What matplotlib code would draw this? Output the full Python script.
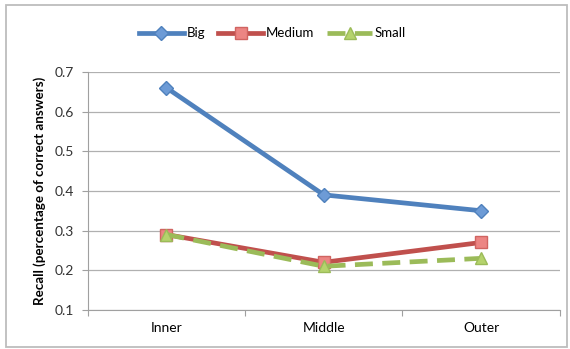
import matplotlib.pyplot as plt
from matplotlib.patches import Rectangle

plt.rcParams['font.family'] = ['Lato', 'DejaVu Sans']

regions = ["Inner", "Middle", "Outer"]
big = [0.66, 0.39, 0.35]
medium = [0.29, 0.22, 0.27]
small = [0.29, 0.21, 0.23]

fig = plt.figure(figsize=(5.70, 3.49), dpi=100)
ax = fig.add_axes([0.154, 0.112, 0.828, 0.682])

x = range(len(regions))
ax.plot(x, big, color="#4f81bd", lw=3.4, marker="D", ms=7,
        mfc="#6d9bd6", mec="#4f81bd", label="Big", zorder=3)
ax.plot(x, medium, color="#c0504d", lw=3.4, marker="s", ms=8,
        mfc="#ec8583", mec="#d06461", label="Medium", zorder=3)
ax.plot(x, small, color="#9bbb59", lw=3.4, ls=(0, (3.8, 2)), marker="^", ms=9,
        mfc="#b5d36c", mec="#9bbb59", label="Small", zorder=4)

ax.set_xlim(-0.5, 2.5)
ax.set_ylim(0.1, 0.7)
ax.set_yticks([0.1, 0.2, 0.3, 0.4, 0.5, 0.6, 0.7])
ax.set_yticklabels(["0.1", "0.2", "0.3", "0.4", "0.5", "0.6", "0.7"])
ax.set_xticks([-0.5, 0.5, 1.5, 2.5])
ax.set_xticklabels([])
ax.set_xticks([0, 1, 2], minor=True)
ax.set_xticklabels(regions, minor=True)
ax.tick_params(axis="x", which="minor", length=0, pad=9)
ax.tick_params(axis="x", which="major", length=4, color="#a0a0a0")
ax.tick_params(axis="y", length=4, color="#a0a0a0", pad=6)
ax.tick_params(labelsize=10, labelcolor="#333333")

ax.grid(axis="y", color="#b0b0b0", lw=0.9)
ax.set_axisbelow(True)
for side in ["top", "right"]:
    ax.spines[side].set_visible(False)
for side in ["left", "bottom"]:
    ax.spines[side].set_color("#a0a0a0")

ax.set_ylabel("Recall (percentage of correct answers)", fontsize=9.6,
              fontweight="bold", labelpad=6)

fig.legend(loc="center", bbox_to_anchor=(0.478, 0.905), ncol=3, frameon=False,
           fontsize=9.5, handlelength=3.4, columnspacing=1.0, handletextpad=0.2)

# chart border
fig.patches.append(Rectangle((6 / 570, 2 / 349), 561 / 570, 342 / 349,
                             transform=fig.transFigure, fill=False,
                             ec="#bdbdbd", lw=1.3))

fig.savefig("out.png", dpi=100)
